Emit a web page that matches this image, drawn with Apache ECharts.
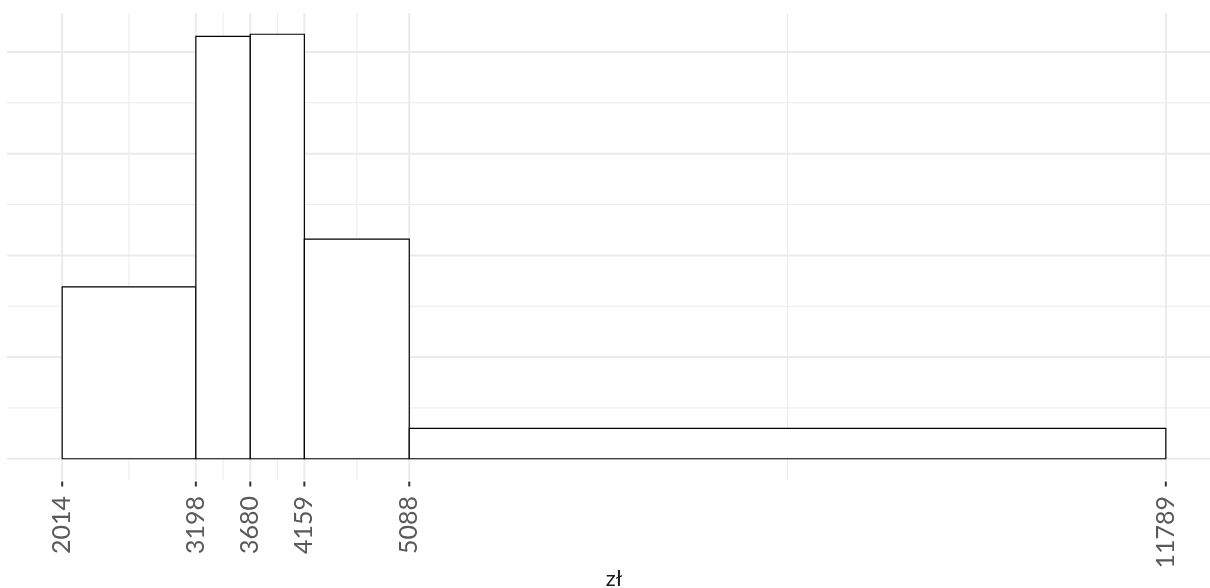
<!DOCTYPE html>
<html>
<head>
<meta charset="utf-8">
<script src="https://cdn.jsdelivr.net/npm/echarts@6/dist/echarts.min.js"></script>
<style>html,body{margin:0;padding:0;background:#fff;}#c{width:1210px;height:588px;}</style>
</head>
<body>
<div id="c"></div>
<script>
// Bin edges (x axis tick labels) and density heights
const binStarts = [2014, 3198, 3680, 4159, 5088];
const binEnds   = [3198, 3680, 4159, 5088, 11789];
const densities = [0.000169, 0.0004155, 0.0004175, 0.000216, 0.0000298];
const xTicks = [2014, 3198, 3680, 4159, 5088, 11789];
const xMinorGrid = [2606, 3439, 3919.5, 4623.5, 8438.5];
const yMajorGrid = [0, 0.0001, 0.0002, 0.0003, 0.0004];
const yMinorGrid = [0.00005, 0.00015, 0.00025, 0.00035];
const xTitle = 'zł';

const xMin = 1525.25, xMax = 12277.75;
const yMin = -0.0000209, yMax = 0.0004384;

const gridItems = [];
xTicks.forEach(v => gridItems.push([v, 2, 0]));
xMinorGrid.forEach(v => gridItems.push([v, 1, 0]));
yMajorGrid.forEach(v => gridItems.push([v, 2, 1]));
yMinorGrid.forEach(v => gridItems.push([v, 1, 1]));
xTicks.forEach(v => gridItems.push([v, 2, 2]));

const bars = binStarts.map((s, i) => [s, binEnds[i], densities[i]]);

const chart = echarts.init(document.getElementById('c'), null, {renderer: 'canvas'});
chart.setOption({
  animation: false,
  backgroundColor: '#ffffff',
  grid: {left: 7, top: 13, width: 1214, height: 467, containLabel: false, outerBoundsMode: 'none'},
  xAxis: {
    type: 'value', min: xMin, max: xMax,
    name: xTitle, nameLocation: 'middle', nameGap: 88, nameMoveOverlap: false,
    nameTextStyle: {fontFamily: 'Lato', fontSize: 22, color: '#1a1a1a', verticalAlign: 'top'},
    axisLine: {show: false},
    splitLine: {show: false},
    axisTick: {show: false},
    axisLabel: {show: true, customValues: xTicks, rotate: 90, margin: 16,
      fontFamily: 'Lato', fontWeight: 400, fontSize: 25, color: '#595959',
      formatter: v => String(Math.round(v))}
  },
  yAxis: {
    type: 'value', min: yMin, max: yMax,
    axisLine: {show: false}, axisTick: {show: false}, axisLabel: {show: false}, splitLine: {show: false}
  },
  series: [
    {
      type: 'custom', z: 1, silent: true, clip: false,
      data: gridItems,
      renderItem: function (params, api) {
        const v = api.value(0), w = api.value(1), kind = api.value(2);
        const cs = params.coordSys;
        let shape, color = '#ebebeb';
        if (kind === 0) {
          const x = api.coord([v, 0])[0];
          shape = {x1: x, y1: cs.y, x2: x, y2: cs.y + cs.height};
        } else if (kind === 1) {
          const y = api.coord([xMin, v])[1];
          shape = {x1: cs.x, y1: y, x2: cs.x + cs.width, y2: y};
        } else {
          const x = api.coord([v, 0])[0];
          const yb = cs.y + cs.height;
          shape = {x1: x, y1: yb + 1.5, x2: x, y2: yb + 6.5};
          color = '#333333';
        }
        return {type: 'line', shape: shape, style: {stroke: color, lineWidth: w}};
      }
    },
    {
      type: 'custom', z: 2, silent: true,
      data: bars,
      renderItem: function (params, api) {
        const p1 = api.coord([api.value(0), api.value(2)]);
        const p2 = api.coord([api.value(1), 0]);
        return {type: 'rect',
          shape: {x: p1[0], y: p1[1], width: p2[0] - p1[0], height: p2[1] - p1[1]},
          style: {fill: '#ffffff', stroke: '#000000', lineWidth: 1.2}};
      }
    }
  ]
});
</script>
</body>
</html>
